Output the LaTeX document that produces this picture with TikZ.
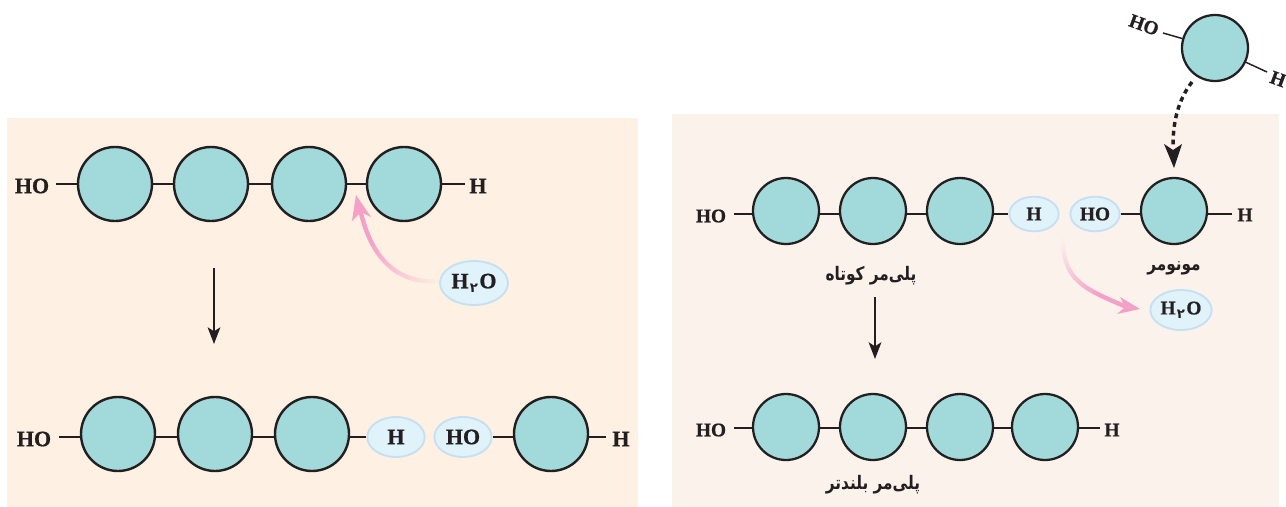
\documentclass[tikz,border=0pt]{standalone}
\usepackage{fontspec}
\setmainfont[BoldFeatures={FakeBold=0.8}]{Liberation Serif}
\newfontfamily\arabicfont[Script=Arabic]{DejaVu Sans}
\TeXXeTstate=1
\definecolor{leftbg}{HTML}{FEF0E2}
\definecolor{rightbg}{HTML}{FCF2EC}
\definecolor{beadfill}{HTML}{A2DADB}
\definecolor{inkc}{HTML}{231F20}
\definecolor{ovalfill}{HTML}{E0F2FA}
\definecolor{ovaldraw}{HTML}{C6E0F2}
\definecolor{pinkc}{HTML}{F5A0C8}
\usetikzlibrary{calc,shapes.geometric,arrows.meta}
\pgfdeclarelayer{panels}
\pgfdeclarelayer{bonds}
\pgfsetlayers{panels,bonds,main}
\tikzset{
  x=0.75pt,y=-0.75pt,
  beadbig/.style={circle,draw=inkc,fill=beadfill,line width=1.8pt,minimum size=55.5pt,inner sep=0pt},
  beadsmall/.style={circle,draw=inkc,fill=beadfill,line width=1.7pt,minimum size=49.5pt,inner sep=0pt},
  bond/.style={draw=inkc,line width=1.4pt},
  bondthin/.style={draw=inkc,line width=1.1pt},
  chemL/.style={text=inkc,font=\fontsize{16.5}{18}\selectfont\bfseries,inner sep=0pt},
  chemR/.style={text=inkc,font=\fontsize{14.5}{16}\selectfont\bfseries,inner sep=0pt},
  oval/.style={ellipse,draw=ovaldraw,fill=ovalfill,line width=1.4pt,inner sep=0pt},
  fa/.style={text=inkc,font=\arabicfont\bfseries\fontsize{14}{16}\selectfont,inner sep=0pt,xscale=0.82},
  flow/.style={draw=inkc,line width=1.5pt,-{Stealth[length=12.5pt,width=9.5pt,inset=3pt]}},
}
\newcommand{\waterlabel}{H\kern1pt\raisebox{-3pt}{\arabicfont\fontsize{10}{10}\selectfont ۲}\kern1pt O}
\newcommand{\gradstroke}[2]{% prefix, background colour
  \foreach \k [remember=\k as \j (initially 0)] in {1,...,40}{
    \pgfmathsetmacro\m{min(100,\k*3.2)}
    \draw[line width=3.2pt,line cap=round,color={pinkc!\m!#2}] (#1\j) -- (#1\k);
  }}
\begin{document}
\begin{tikzpicture}
\useasboundingbox (0,0) rectangle (1286,507);
\begin{pgfonlayer}{panels}
\fill[leftbg] (7,118) rectangle (638,507);
\fill[rightbg] (672,114) rectangle (1279,507);
\end{pgfonlayer}

% left panel, top chain
\node[beadbig] (a1) at (115,184) {};
\node[beadbig] (a2) at (211,184) {};
\node[beadbig] (a3) at (309,184) {};
\node[beadbig] (a4) at (404,184) {};
\node[chemL] (aHO) at (32,186) {HO};
\node[chemL] (aH) at (478,186) {H};
\coordinate (aHOe) at (56,184);
\coordinate (aHe) at (465,184);
\begin{pgfonlayer}{bonds}
\draw[bond] (aHOe) -- (a1) (a1) -- (a2) (a2) -- (a3) (a3) -- (a4) (a4) -- (aHe);
\end{pgfonlayer}

% left panel, arrow down
\coordinate (ad1) at (214,268);
\coordinate (ad2) at (214,344);
\draw[flow] (ad1) -- (ad2);

% left panel, water
\node[oval,minimum width=51pt,minimum height=33pt,chemL] (w1) at (474,283) {\waterlabel};
\coordinate (w1s) at (437,281);
\coordinate (w1c1) at (395,284);
\coordinate (w1c2) at (371,255);
\coordinate (w1e) at (361,213);
\path (w1s) .. controls (w1c1) and (w1c2) .. (w1e)
  \foreach \k in {0,...,40}{ coordinate[pos=\k*0.025] (L\k) };
\gradstroke{L}{leftbg}
\coordinate (w1tip) at (356,195);
\coordinate (w1b) at (352,221);
\coordinate (w1n) at (361,212);
\coordinate (w1d) at (371,217);
\fill[pinkc] (w1tip) -- (w1b) -- (w1n) -- (w1d) -- cycle;

% left panel, bottom chain
\node[beadbig] (b1) at (118,434) {};
\node[beadbig] (b2) at (215,434) {};
\node[beadbig] (b3) at (312,434) {};
\node[beadbig] (b4) at (551,434) {};
\node[oval,minimum width=43pt,minimum height=30pt,chemL] (bH) at (396,437) {H};
\node[oval,minimum width=43pt,minimum height=30pt,chemL] (bOH) at (463,437) {HO};
\node[chemL] (bHO) at (34,439) {HO};
\node[chemL] (bHr) at (621,439) {H};
\coordinate (bHOe) at (59,437);
\coordinate (bHe) at (606,437);
\begin{pgfonlayer}{bonds}
\draw[bond] (bHOe) -- (b1 |- bHOe) (b1 |- bHOe) -- (b2 |- bHOe) (b2 |- bHOe) -- (b3 |- bHOe) (b3 |- bHOe) -- (bH) (bOH) -- (b4 |- bHOe) (b4 |- bHOe) -- (bHe);
\end{pgfonlayer}

% right panel, top chain
\node[beadsmall] (c1) at (786,211) {};
\node[beadsmall] (c2) at (873,211) {};
\node[beadsmall] (c3) at (960,211) {};
\node[beadsmall] (c4) at (1174,211) {};
\node[oval,minimum width=37pt,minimum height=26pt,chemR] (cH) at (1034,214) {H};
\node[oval,minimum width=37pt,minimum height=26pt,chemR] (cOH) at (1095,214) {HO};
\node[chemR] (cHO) at (711,216) {HO};
\node[chemR] (cHr) at (1245,215) {H};
\coordinate (cHOe) at (734,214);
\coordinate (cHe) at (1232,214);
\begin{pgfonlayer}{bonds}
\draw[bondthin] (cHOe) -- (c1 |- cHOe) (c1 |- cHOe) -- (c2 |- cHOe) (c2 |- cHOe) -- (c3 |- cHOe) (c3 |- cHOe) -- (cH) (cOH) -- (c4 |- cHOe) (c4 |- cHOe) -- (cHe);
\end{pgfonlayer}
\node[fa] (lshort) at (871,276) {\beginR پلی‌مر کوتاه\endR};
\node[fa] (lmono) at (1174,268) {\beginR مونومر\endR};

% right panel, water
\node[oval,minimum width=46pt,minimum height=30pt,chemR] (w2) at (1181,310) {\waterlabel};
\coordinate (w2s) at (1063,240);
\coordinate (w2c1) at (1063,282);
\coordinate (w2c2) at (1088,290);
\coordinate (w2e) at (1124,306);
\path (w2s) .. controls (w2c1) and (w2c2) .. (w2e)
  \foreach \k in {0,...,40}{ coordinate[pos=\k*0.025] (R\k) };
\gradstroke{R}{rightbg}
\coordinate (w2tip) at (1140,309);
\coordinate (w2b) at (1120,297);
\coordinate (w2n) at (1125,307);
\coordinate (w2d) at (1117,314);
\fill[pinkc] (w2tip) -- (w2b) -- (w2n) -- (w2d) -- cycle;

% right panel, arrow down
\coordinate (cd1) at (875,297);
\coordinate (cd2) at (875,359);
\draw[flow] (cd1) -- (cd2);

% right panel, bottom chain
\node[beadsmall] (d1) at (786,427) {};
\node[beadsmall] (d2) at (873,427) {};
\node[beadsmall] (d3) at (960,427) {};
\node[beadsmall] (d4) at (1045,427) {};
\node[chemR] (dHO) at (711,430) {HO};
\node[chemR] (dH) at (1112,430) {H};
\coordinate (dHOe) at (734,428);
\coordinate (dHe) at (1100,428);
\begin{pgfonlayer}{bonds}
\draw[bondthin] (dHOe) -- (dHe);
\end{pgfonlayer}
\node[fa] (llong) at (873,485) {\beginR پلی‌مر بلندتر\endR};

% free monomer
\node[beadsmall] (m) at (1215,48) {};
\node[chemR,rotate=-20] (mHO) at (1144,25) {HO};
\node[chemR,rotate=-20] (mH) at (1278,79) {H};
\coordinate (mHOe) at (1163,33);
\coordinate (mHe) at (1267,72);
\begin{pgfonlayer}{bonds}
\draw[bondthin] (mHOe) -- (m) (m) -- (mHe);
\end{pgfonlayer}

% dotted arrow
\coordinate (ms) at (1192,82);
\coordinate (mc1) at (1178,100);
\coordinate (mc2) at (1173,122);
\coordinate (me) at (1173,146);
\draw[inkc,line width=2.6pt,dash pattern=on 3.6pt off 3pt] (ms) .. controls (mc1) and (mc2) .. (me);
\coordinate (mtip) at (1174,168);
\coordinate (mb) at (1164,144);
\coordinate (mn) at (1173,150);
\coordinate (md) at (1182,144);
\fill[inkc] (mtip) -- (mb) -- (mn) -- (md) -- cycle;
\end{tikzpicture}
\end{document}
